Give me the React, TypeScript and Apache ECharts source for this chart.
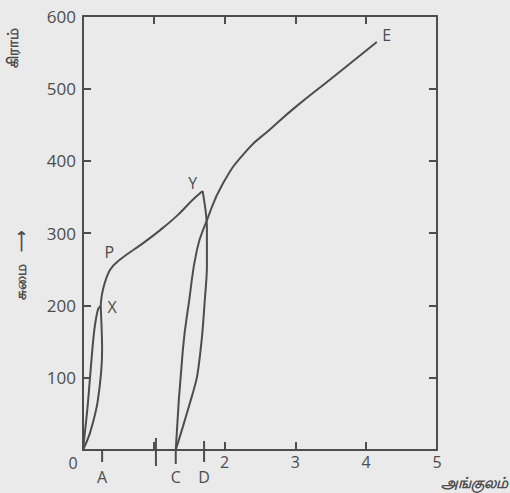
import React, { useEffect, useRef } from "react";
import * as echarts from "echarts";

// Curve segments (x in inches, y in grams)
const loadOX: number[][] = [[0, 0], [0.06, 55], [0.1, 101], [0.155, 162], [0.21, 194], [0.25, 199]];
const unloadXO: number[][] = [[0.25, 199], [0.27, 138], [0.21, 69], [0.1, 24], [0, 0]];
const loadXY: number[][] = [[0.25, 199], [0.28, 221], [0.38, 249], [0.52, 263], [0.85, 286], [1.09, 304], [1.33, 324], [1.55, 346], [1.69, 358]];
const unloadYC: number[][] = [[1.69, 358], [1.75, 308], [1.75, 253], [1.72, 207], [1.68, 156], [1.61, 101], [1.51, 65], [1.41, 32], [1.31, 0]];
const reloadCE: number[][] = [[1.31, 0], [1.41, 138], [1.5, 207], [1.61, 277], [1.74, 315], [1.98, 369], [2.32, 415], [2.64, 443], [3.0, 474], [3.5, 513], [4.15, 564]];

// Extra marks on the extension axis
const markTicks: number[] = [0.27, 1.03, 1.31, 1.71];
const markNames: string[] = ["A", "", "C", "D"];

// Point annotations
const pointNames: string[] = ["X", "P", "Y", "E"];
const pointX: number[] = [0.41, 0.37, 1.55, 4.29];
const pointY: number[] = [198, 274, 369, 574];

const xTickLabels: string[] = ["", "", "2", "3", "4", "5"];

const INK = "#4d4d4d";
const FONT = "'Open Sans', 'DejaVu Sans', sans-serif";

export default function App() {
  const ref = useRef<HTMLDivElement>(null);
  useEffect(() => {
    if (!ref.current) return;
    const chart = echarts.init(ref.current, null, { renderer: "svg" });
    const tickUp = [0, 12, 0, 9];
    const tickDown = [12, 16, 14, 12];
    const lineSeries = (data: number[][], smooth: number) => ({
      type: "line",
      data,
      smooth,
      showSymbol: false,
      symbol: "none",
      lineStyle: { color: INK, width: 2 },
      xAxisIndex: 0,
      yAxisIndex: 0,
      z: 3,
    });
    const axisCommon = {
      type: "value",
      axisLine: { show: true, onZero: false, lineStyle: { color: INK, width: 2 } },
      splitLine: { show: false },
    };
    chart.setOption({
      animation: false,
      backgroundColor: "#eaeaea",
      grid: { left: 83, top: 16, right: 73, bottom: 43 },
      xAxis: [
        {
          ...axisCommon,
          position: "bottom",
          min: 0,
          max: 5,
          interval: 1,
          axisTick: { show: true, inside: true, length: 8, lineStyle: { color: INK, width: 2 } },
          axisLabel: {
            margin: 4,
            color: INK,
            fontSize: 16,
            fontFamily: FONT,
            formatter: (v: number) => xTickLabels[Math.round(v)] ?? "",
          },
        },
        {
          ...axisCommon,
          position: "top",
          min: 0,
          max: 5,
          interval: 1,
          axisTick: { show: true, inside: true, length: 8, lineStyle: { color: INK, width: 2 } },
          axisLabel: { show: false },
        },
      ],
      yAxis: [
        {
          ...axisCommon,
          position: "left",
          min: 0,
          max: 600,
          interval: 100,
          axisTick: { show: true, inside: true, length: 8, lineStyle: { color: INK, width: 2 } },
          axisLabel: {
            margin: 7,
            color: INK,
            fontSize: 17,
            fontFamily: FONT,
            formatter: (v: number) => (v === 0 ? "" : String(v)),
          },
        },
        {
          ...axisCommon,
          position: "right",
          min: 0,
          max: 600,
          interval: 100,
          axisTick: { show: true, inside: true, length: 8, lineStyle: { color: INK, width: 2 } },
          axisLabel: { show: false },
        },
      ],
      series: [
        lineSeries(loadOX, 0.3),
        lineSeries(unloadXO, 0.3),
        lineSeries(loadXY, 0.4),
        lineSeries(unloadYC, 0.3),
        lineSeries(reloadCE, 0.5),
        {
          type: "custom",
          coordinateSystem: "cartesian2d",
          xAxisIndex: 0,
          yAxisIndex: 0,
          clip: false,
          data: markTicks.map((v) => [v, 0]),
          renderItem: (params: any, api: any) => {
            const i = params.dataIndex;
            const p = api.coord([api.value(0), 0]);
            const children: any[] = [
              {
                type: "line",
                shape: { x1: p[0], y1: p[1] - tickUp[i], x2: p[0], y2: p[1] + tickDown[i] },
                style: { stroke: INK, lineWidth: 2 },
              },
            ];
            if (markNames[i]) {
              children.push({
                type: "text",
                x: p[0],
                y: p[1] + 27,
                style: {
                  text: markNames[i],
                  fill: INK,
                  fontSize: 16,
                  fontFamily: FONT,
                  align: "center",
                  verticalAlign: "middle",
                },
              });
            }
            if (i === 0) {
              const o = api.coord([0, 0]);
              children.push({
                type: "text",
                x: o[0] - 10,
                y: o[1] + 13,
                style: {
                  text: "0",
                  fill: INK,
                  fontSize: 16,
                  fontFamily: FONT,
                  align: "center",
                  verticalAlign: "middle",
                },
              });
            }
            return { type: "group", children };
          },
          z: 4,
        },
        {
          type: "custom",
          coordinateSystem: "cartesian2d",
          xAxisIndex: 0,
          yAxisIndex: 0,
          clip: false,
          data: pointX.map((x, i) => [x, pointY[i]]),
          renderItem: (params: any, api: any) => {
            const p = api.coord([api.value(0), api.value(1)]);
            return {
              type: "text",
              x: p[0],
              y: p[1],
              style: {
                text: pointNames[params.dataIndex],
                fill: INK,
                fontSize: 16,
                fontFamily: FONT,
                align: "center",
                verticalAlign: "middle",
              },
            };
          },
          z: 4,
        },
      ],
      graphic: [
        {
          type: "text",
          x: 12,
          y: 48,
          rotation: Math.PI / 2,
          style: {
            text: "கிராம்",
            fill: INK,
            fontSize: 15,
            fontWeight: "bold",
            fontFamily: "sans-serif",
            align: "center",
            verticalAlign: "middle",
          },
        },
        {
          type: "text",
          x: 20,
          y: 265,
          rotation: Math.PI / 2,
          style: {
            text: "சுமை   ⟶",
            fill: INK,
            fontSize: 15,
            fontWeight: "bold",
            fontFamily: "sans-serif",
            align: "center",
            verticalAlign: "middle",
          },
        },
        {
          type: "text",
          x: 474,
          y: 482,
          style: {
            text: "அங்குலம்",
            fill: INK,
            fontSize: 15,
            fontWeight: "bold",
            fontStyle: "italic",
            fontFamily: "sans-serif",
            align: "center",
            verticalAlign: "middle",
          },
        },
      ],
    });
    return () => chart.dispose();
  }, []);
  return (
    <div
      ref={ref}
      style={{ position: "fixed", left: 0, top: 0, width: 510, height: 493 }}
    />
  );
}
